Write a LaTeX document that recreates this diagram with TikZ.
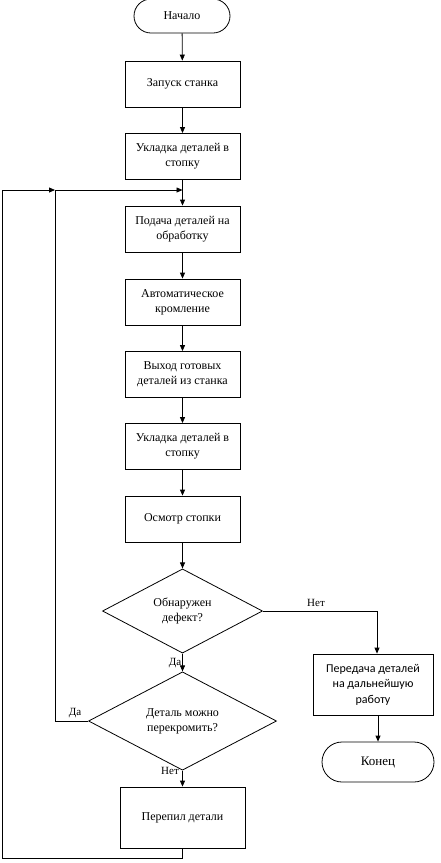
\documentclass[tikz,border=0pt]{standalone}
\usepackage{fontspec}
\setmainfont{Liberation Serif}
\newfontfamily\sansf{Carlito}
\usetikzlibrary{shapes.geometric,arrows.meta}
\begin{document}
\begin{tikzpicture}[x=1pt,y=-1pt,
  line width=0.8pt,
  box/.style={draw,rectangle,minimum width=115pt,minimum height=46pt,align=center,inner sep=1pt,font=\fontsize{12}{15}\selectfont},
  term/.style={draw,rectangle,rounded corners=17pt,align=center,inner sep=1pt},
  dec/.style={draw,diamond,inner sep=0pt,align=center,font=\fontsize{12}{15}\selectfont},
  arr/.style={-{Triangle[length=6pt,width=5pt]}},
  lbl/.style={font=\fontsize{11}{13}\selectfont,inner sep=0pt}]
\useasboundingbox (0,0) rectangle (441,863);
\node[term,minimum width=96pt,minimum height=34pt,font=\fontsize{12}{14}\selectfont] (start) at (182,16) {Начало};
\node[box] (b1) at (182.5,84) {Запуск станка};
\node[box] (b2) at (182.5,156.5) {Укладка деталей в\\стопку};
\node[box] (b3) at (182.5,229) {Подача деталей на\\обработку};
\node[box] (b4) at (182.5,302) {Автоматическое\\кромление};
\node[box] (b5) at (182.5,374.5) {Выход готовых\\деталей из станка};
\node[box] (b6) at (182.5,446.5) {Укладка деталей в\\стопку};
\node[box] (b7) at (182.5,519) {Осмотр стопки};
\node[dec,minimum width=160pt,minimum height=84pt] (d1) at (182.5,611) {Обнаружен\\дефект?};
\node[dec,minimum width=188pt,minimum height=78pt] (d2) at (182.5,721) {Деталь можно\\перекромить?};
\node[box,minimum width=125pt,minimum height=61pt] (cut) at (182.5,817.5) {Перепил детали};
\node[box,minimum width=120pt,minimum height=61pt,font=\sansf\fontsize{12}{15.5}\selectfont] (pass) at (373,684.5) {Передача деталей\\на дальнейшую\\работу};
\node[term,minimum width=112pt,minimum height=40pt,rounded corners=20pt,font=\fontsize{13}{15}\selectfont] (end) at (378,762) {Конец};
\coordinate (j1) at (182.5,190);
\coordinate (j0) at (55,190);
\coordinate (nr) at (377,611);
\coordinate (dl) at (55,721);
\coordinate (bl) at (182.5,858);
\coordinate (bc) at (2,858);
\coordinate (tc) at (2,190);
\draw[arr] (start) -- (b1);
\draw[arr] (b1) -- (b2);
\draw[arr] (b2) -- (b3);
\draw[arr] (b3) -- (b4);
\draw[arr] (b4) -- (b5);
\draw[arr] (b5) -- (b6);
\draw[arr] (b6) -- (b7);
\draw[arr] (b7) -- (d1);
\draw[arr] (d1) -- (d2);
\draw[arr] (d2) -- (cut);
\draw[arr] (d1.east) -- (nr) -- (pass.north -| nr);
\draw[arr] (pass.south -| end) -- (end);
\draw[arr] (d2.west) -- (dl) -- (j0) -- (j1);
\draw[arr] (cut.south) -- (bl) -- (bc) -- (tc) -- (j0);
\node[lbl] (l1) at (316,603) {Нет};
\node[lbl] (l2) at (175,663) {Да};
\node[lbl] (l3) at (75,713) {Да};
\node[lbl] (l4) at (170,771) {Нет};
\end{tikzpicture}
\end{document}
